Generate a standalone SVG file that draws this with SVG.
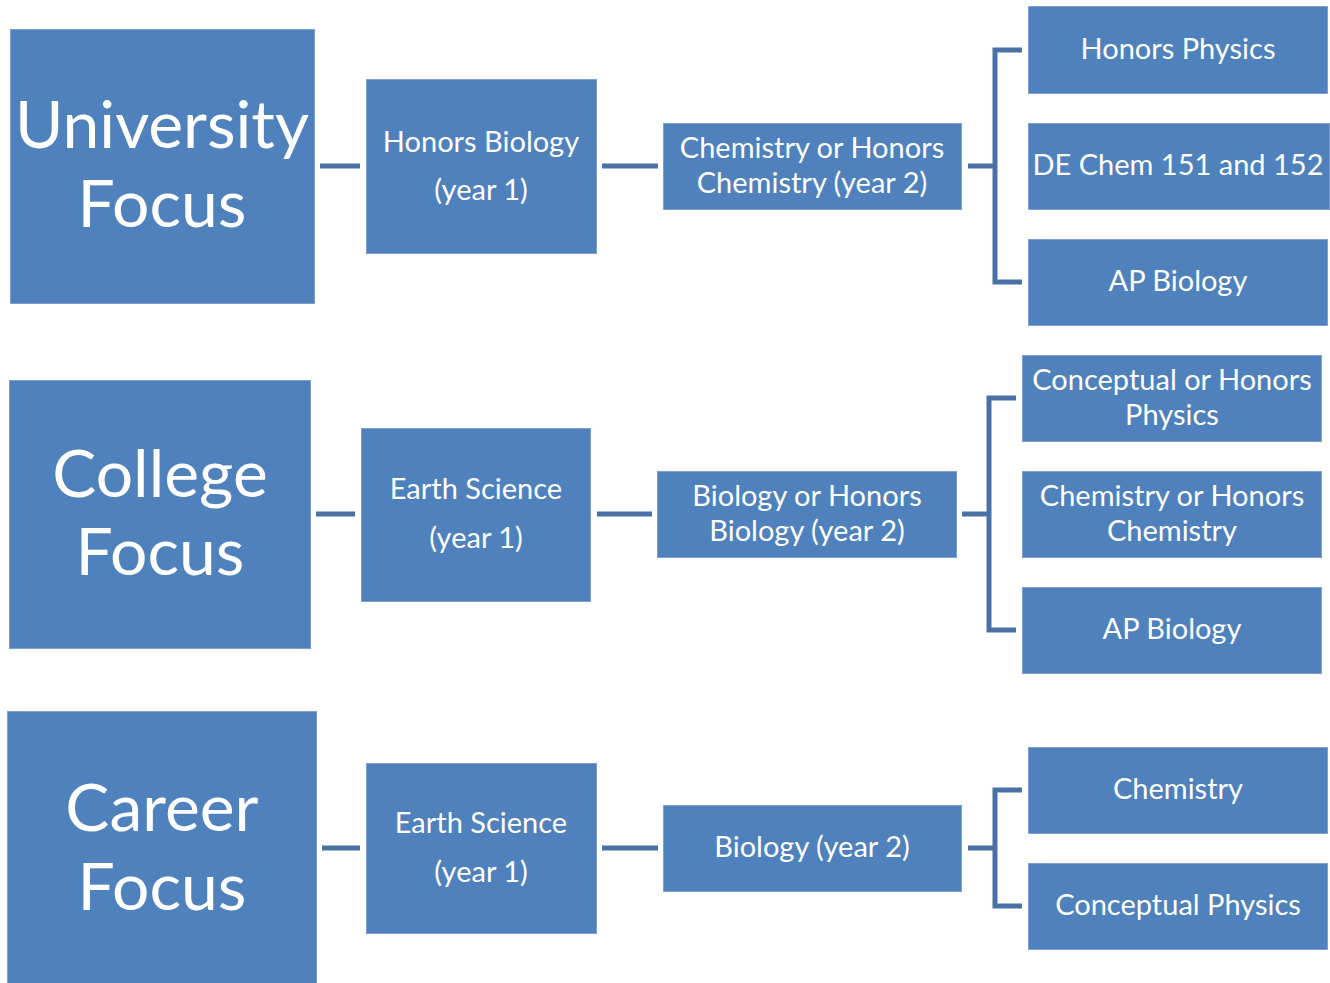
<svg xmlns="http://www.w3.org/2000/svg" width="1330" height="983" viewBox="0 0 1330 983">
<style>
.box{fill:#4F81BD;stroke:#7FA0CF;stroke-width:1}
.big{font-family:Lato,"Liberation Sans",sans-serif;font-size:66px;fill:#fff;text-anchor:middle}
.t{font-family:Lato,"Liberation Sans",sans-serif;font-size:29px;fill:#fff;text-anchor:middle}
.c{fill:none;stroke:#4A70A8;stroke-width:5}
</style>
<rect width="1330" height="983" fill="#fff"/>
<g id="connectors">
<path class="c" d="M320 166H360M602 166H658M968 166H995M1022 50H995V282H1022"/>
<path class="c" d="M316 514H355M597 514H652M962 514H989M1016 398H989V630H1016"/>
<path class="c" d="M322 848H360M602 848H658M968 848H995M1022 790H995V906H1022"/>
</g>
<g id="university"><rect class="box" x="10.5" y="29.5" width="304" height="274"/><text class="big" x="162" y="148">University</text><text class="big" x="162" y="227">Focus</text></g>
<g id="honorsbio"><rect class="box" x="366.5" y="79.5" width="230" height="174"/><text class="t" x="481" y="152">Honors Biology</text><text class="t" x="481" y="200">(year 1)</text></g>
<g id="chem1"><rect class="box" x="663.5" y="123.5" width="298" height="86"/><text class="t" x="812" y="158">Chemistry or Honors</text><text class="t" x="812" y="193">Chemistry (year 2)</text></g>
<g id="honorsphys"><rect class="box" x="1028.5" y="6.5" width="299" height="87"/><text class="t" x="1178" y="59">Honors Physics</text></g>
<g id="dechem"><rect class="box" x="1028.5" y="123.5" width="301" height="86"/><text class="t" x="1178" y="175">DE Chem 151 and 152</text></g>
<g id="apbio1"><rect class="box" x="1028.5" y="239.5" width="299" height="86"/><text class="t" x="1178" y="291">AP Biology</text></g>

<g id="college"><rect class="box" x="9.5" y="380.5" width="301" height="268"/><text class="big" x="160" y="497">College</text><text class="big" x="160" y="575">Focus</text></g>
<g id="earth2"><rect class="box" x="361.5" y="428.5" width="229" height="173"/><text class="t" x="476" y="499">Earth Science</text><text class="t" x="476" y="548">(year 1)</text></g>
<g id="bio2"><rect class="box" x="657.5" y="471.5" width="299" height="86"/><text class="t" x="807" y="506">Biology or Honors</text><text class="t" x="807" y="541">Biology (year 2)</text></g>
<g id="concphys2"><rect class="box" x="1022.5" y="355.5" width="299" height="86"/><text class="t" x="1172" y="390">Conceptual or Honors</text><text class="t" x="1172" y="425">Physics</text></g>
<g id="chem2"><rect class="box" x="1022.5" y="471.5" width="299" height="86"/><text class="t" x="1172" y="506">Chemistry or Honors</text><text class="t" x="1172" y="541">Chemistry</text></g>
<g id="apbio2"><rect class="box" x="1022.5" y="587.5" width="299" height="86"/><text class="t" x="1172" y="639">AP Biology</text></g>

<g id="career"><rect class="box" x="7.5" y="711.5" width="309" height="280"/><text class="big" x="162" y="831">Career</text><text class="big" x="162" y="910">Focus</text></g>
<g id="earth3"><rect class="box" x="366.5" y="763.5" width="230" height="170"/><text class="t" x="481" y="833">Earth Science</text><text class="t" x="481" y="882">(year 1)</text></g>
<g id="bio3"><rect class="box" x="663.5" y="805.5" width="298" height="86"/><text class="t" x="812" y="857">Biology (year 2)</text></g>
<g id="chem3"><rect class="box" x="1028.5" y="747.5" width="299" height="86"/><text class="t" x="1178" y="799">Chemistry</text></g>
<g id="concphys3"><rect class="box" x="1028.5" y="863.5" width="299" height="86"/><text class="t" x="1178" y="915">Conceptual Physics</text></g>
</svg>
